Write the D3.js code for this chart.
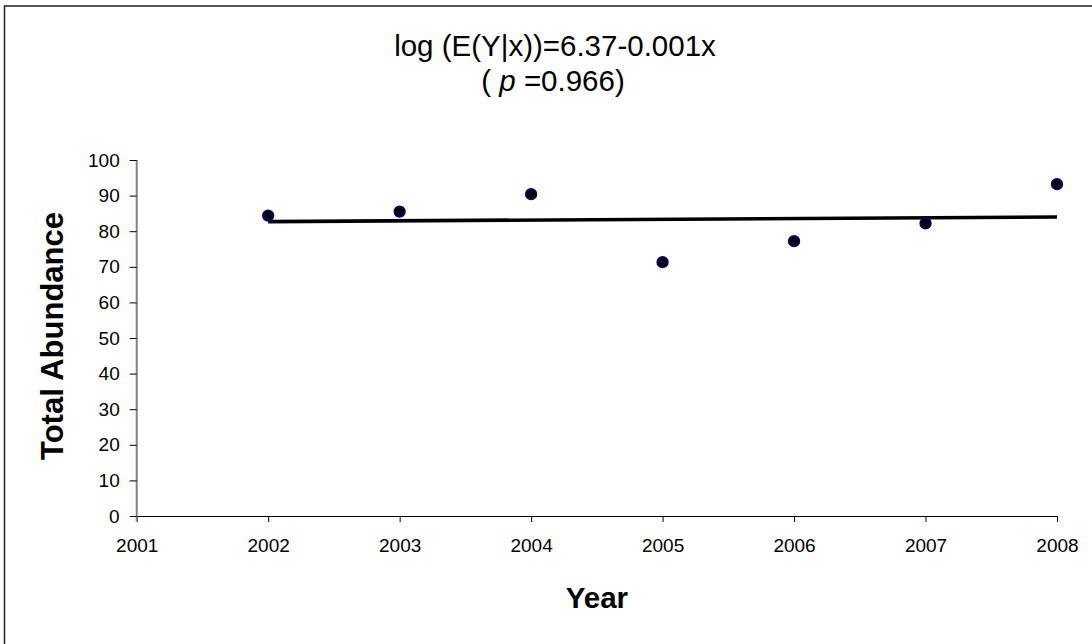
<!DOCTYPE html>
<html>
<head>
<meta charset="utf-8">
<script src="https://cdn.jsdelivr.net/npm/d3@7/dist/d3.min.js"></script>
<style>
  html, body { margin: 0; padding: 0; background: #fff; }
  svg { display: block; font-family: "Liberation Sans", Arial, sans-serif; }
</style>
</head>
<body>
<svg id="chart" width="1092" height="644"></svg>
<script>
// ---- data ----
const years = [2002, 2003, 2004, 2005, 2006, 2007, 2008];
const abundance = [84.4, 85.5, 90.4, 71.3, 77.2, 82.2, 93.2];
const trendYears = [2002, 2008];
const trendValues = [82.7, 84.0];
const xTicks = [2001, 2002, 2003, 2004, 2005, 2006, 2007, 2008];
const yTicks = [0, 10, 20, 30, 40, 50, 60, 70, 80, 90, 100];
const titleLine1 = "log (E(Y|x))=6.37-0.001x";
const pValue = "0.966";
const xLabel = "Year";
const yLabel = "Total Abundance";

(function () {
// ---- layout ----
const svg = d3.select("#chart");
const pLeft = 136.7, pRight = 1057, pTop = 160, pBottom = 516;

const x = d3.scaleLinear().domain([2001, 2008]).range([pLeft, pRight]);
const y = d3.scaleLinear().domain([0, 100]).range([pBottom, pTop]);

// outer border (chart area frame)
svg.append("rect")
  .attr("x", 4.5).attr("y", 6)
  .attr("width", 1100).attr("height", 700)
  .attr("fill", "none").attr("stroke", "#222").attr("stroke-width", 1.5);

// title
const title = svg.append("text")
  .attr("x", 555).attr("text-anchor", "middle")
  .attr("font-size", 29.5).attr("fill", "#000");
title.append("tspan").attr("x", 555).attr("y", 56).text(titleLine1);
const t2 = title.append("tspan").attr("x", 553).attr("y", 91);
t2.append("tspan").text("( ");
t2.append("tspan").attr("font-style", "italic").text("p");
t2.append("tspan").text(" =" + pValue + ")");

// x axis
const xAxis = svg.append("g")
  .attr("transform", `translate(0,${pBottom})`)
  .call(d3.axisBottom(x).tickValues(xTicks).tickFormat(d3.format("d"))
        .tickSize(6).tickPadding(17).tickSizeOuter(0));
xAxis.select(".domain").attr("stroke", "#000").attr("stroke-width", 1.2);
xAxis.selectAll(".tick line").attr("stroke", "#000").attr("stroke-width", 1);
xAxis.selectAll(".tick text").attr("font-size", 19).attr("fill", "#000")
  .attr("font-family", "Liberation Sans, Arial, sans-serif");

// y axis
const yAxis = svg.append("g")
  .attr("transform", `translate(${pLeft},0)`)
  .call(d3.axisLeft(y).tickValues(yTicks).tickSize(7).tickPadding(10).tickSizeOuter(0));
yAxis.select(".domain").attr("stroke", "#808080").attr("stroke-width", 2)
  .attr("d", `M0,${pTop}V${pBottom + 5}`);
yAxis.selectAll(".tick line").attr("stroke", "#000").attr("stroke-width", 1);
yAxis.selectAll(".tick text").attr("font-size", 19).attr("fill", "#000")
  .attr("font-family", "Liberation Sans, Arial, sans-serif");

// axis titles
svg.append("text")
  .attr("x", (pLeft + pRight) / 2).attr("y", 608)
  .attr("text-anchor", "middle").attr("font-size", 29.5).attr("font-weight", "bold")
  .text(xLabel);
svg.append("text")
  .attr("transform", `translate(63,336) rotate(-90)`)
  .attr("text-anchor", "middle").attr("font-size", 31).attr("font-weight", "bold")
  .text(yLabel);

// trend line
const trend = trendYears.map((yr, i) => [yr, trendValues[i]]);
svg.append("path")
  .datum(trend)
  .attr("fill", "none").attr("stroke", "#000").attr("stroke-width", 3.6)
  .attr("d", d3.line().x(d => x(d[0])).y(d => y(d[1])));

// points
svg.append("g").selectAll("circle")
  .data(years.map((yr, i) => ({ yr, v: abundance[i] })))
  .join("circle")
  .attr("cx", d => x(d.yr)).attr("cy", d => y(d.v))
  .attr("r", 5.4)
  .attr("fill", "#000").attr("stroke", "#000080").attr("stroke-width", 1.5);
})();
</script>
</body>
</html>
